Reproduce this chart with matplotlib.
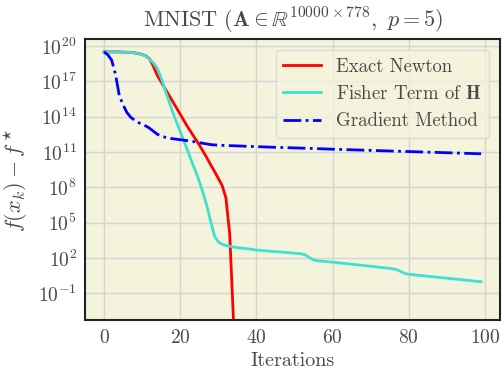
import numpy as np
import matplotlib
matplotlib.use("Agg")
import matplotlib.pyplot as plt

# log10 of f(x_k) - f*
newton_iter = list(range(0, 36))
newton_log = [19.5, 19.5, 19.5, 19.5, 19.5, 19.48, 19.47, 19.45, 19.42, 19.36,
              19.28, 19.15, 18.9, 18.25, 17.5, 16.95, 16.4, 15.85, 15.3, 14.75,
              14.2, 13.65, 13.1, 12.6, 12.1, 11.6, 11.05, 10.5, 9.9, 9.35,
              8.75, 8.15, 7.1, 4.0, -3.4, -12.0]

fisher_iter = list(range(0, 100))
fisher_log = [19.5, 19.5, 19.5, 19.5, 19.5, 19.48, 19.47, 19.45, 19.42, 19.36,
              19.27, 19.12, 18.88, 18.55, 18.1, 17.3, 16.3, 15.35, 14.4, 13.55,
              12.75, 11.9, 11.05, 10.2, 9.4, 8.5, 7.5, 6.4, 5.1, 3.85,
              3.35, 3.15, 3.05, 2.98, 2.92, 2.87, 2.83, 2.79, 2.75, 2.71,
              2.66, 2.63, 2.61, 2.58, 2.55, 2.53, 2.5, 2.48, 2.45, 2.42,
              2.39, 2.37, 2.33, 2.22, 2.0, 1.82, 1.75, 1.72, 1.69, 1.66,
              1.63, 1.6, 1.56, 1.53, 1.49, 1.46, 1.42, 1.39, 1.35, 1.32,
              1.28, 1.25, 1.21, 1.17, 1.14, 1.1, 1.06, 0.98, 0.82, 0.67,
              0.6, 0.57, 0.53, 0.5, 0.47, 0.43, 0.4, 0.37, 0.33, 0.3,
              0.27, 0.23, 0.2, 0.17, 0.13, 0.1, 0.07, 0.03, 0.0, -0.03]

grad_iter = list(range(0, 21)) + [22, 24, 26, 28, 30, 35, 40, 45, 50, 55,
                                  60, 65, 70, 75, 80, 85, 90, 95, 99]
grad_log = [19.5, 19.25, 18.8, 17.6, 15.8, 15.0, 14.35, 13.95, 13.7, 13.5,
            13.35, 13.2, 13.0, 12.75, 12.5, 12.35, 12.25, 12.18, 12.12, 12.08,
            12.04, 11.95, 11.85, 11.73, 11.62, 11.57, 11.51, 11.45, 11.39, 11.34,
            11.29, 11.23, 11.18, 11.13, 11.08, 11.03, 10.98, 10.93, 10.88, 10.84]

labels = ["Exact Newton", r"Fisher Term of $\mathbf{H}$", "Gradient Method"]
title = r"MNIST ($\mathbf{A}\in\mathbb{R}^{10000\times 778},\ p=5$)"

plt.rcParams["font.family"] = "serif"
plt.rcParams["font.serif"] = ["cmr10"]
plt.rcParams["mathtext.fontset"] = "cm"
plt.rcParams["axes.formatter.use_mathtext"] = True
plt.rcParams["axes.unicode_minus"] = False

text_col = "#4a4a4a"

fig = plt.figure(figsize=(5.04, 3.71), dpi=100)
ax = fig.add_axes([0.169, 0.137, 0.823, 0.758])
ax.set_facecolor("#f4f3dc")

ax.plot(newton_iter, 10.0 ** np.array(newton_log), color="red", lw=2, label=labels[0])
ax.plot(fisher_iter, 10.0 ** np.array(fisher_log), color="#40e0d0", lw=2, label=labels[1])
ax.plot(grad_iter, 10.0 ** np.array(grad_log), color="blue", lw=2, ls="-.", label=labels[2])

ax.set_yscale("log")
ax.set_ylim(10 ** -3.3, 10 ** 20.6)
ax.set_yticks([10.0 ** e for e in range(-1, 21, 3)])
ax.minorticks_off()
ax.set_xticks([0, 20, 40, 60, 80, 100])

ax.grid(True, color="#d4d4d4", lw=1)
ax.set_axisbelow(True)
ax.tick_params(length=0, labelsize=14, labelcolor=text_col, pad=6)
for s in ax.spines.values():
    s.set_color("#222222")
    s.set_linewidth(1.5)

ax.set_xlabel("Iterations", fontsize=14.5, color=text_col, labelpad=4)
ax.set_ylabel(r"$f(x_k) - f^\star$", fontsize=16, color=text_col, labelpad=6)
ax.set_title(title, fontsize=16, color=text_col, pad=8)

leg = ax.legend(loc="upper right", fontsize=13.5, facecolor="#f4f3dc",
                edgecolor="#d8d8d8", framealpha=0.8, borderaxespad=0.6)
for t in leg.get_texts():
    t.set_color(text_col)

fig.savefig("out.png", dpi=100)
